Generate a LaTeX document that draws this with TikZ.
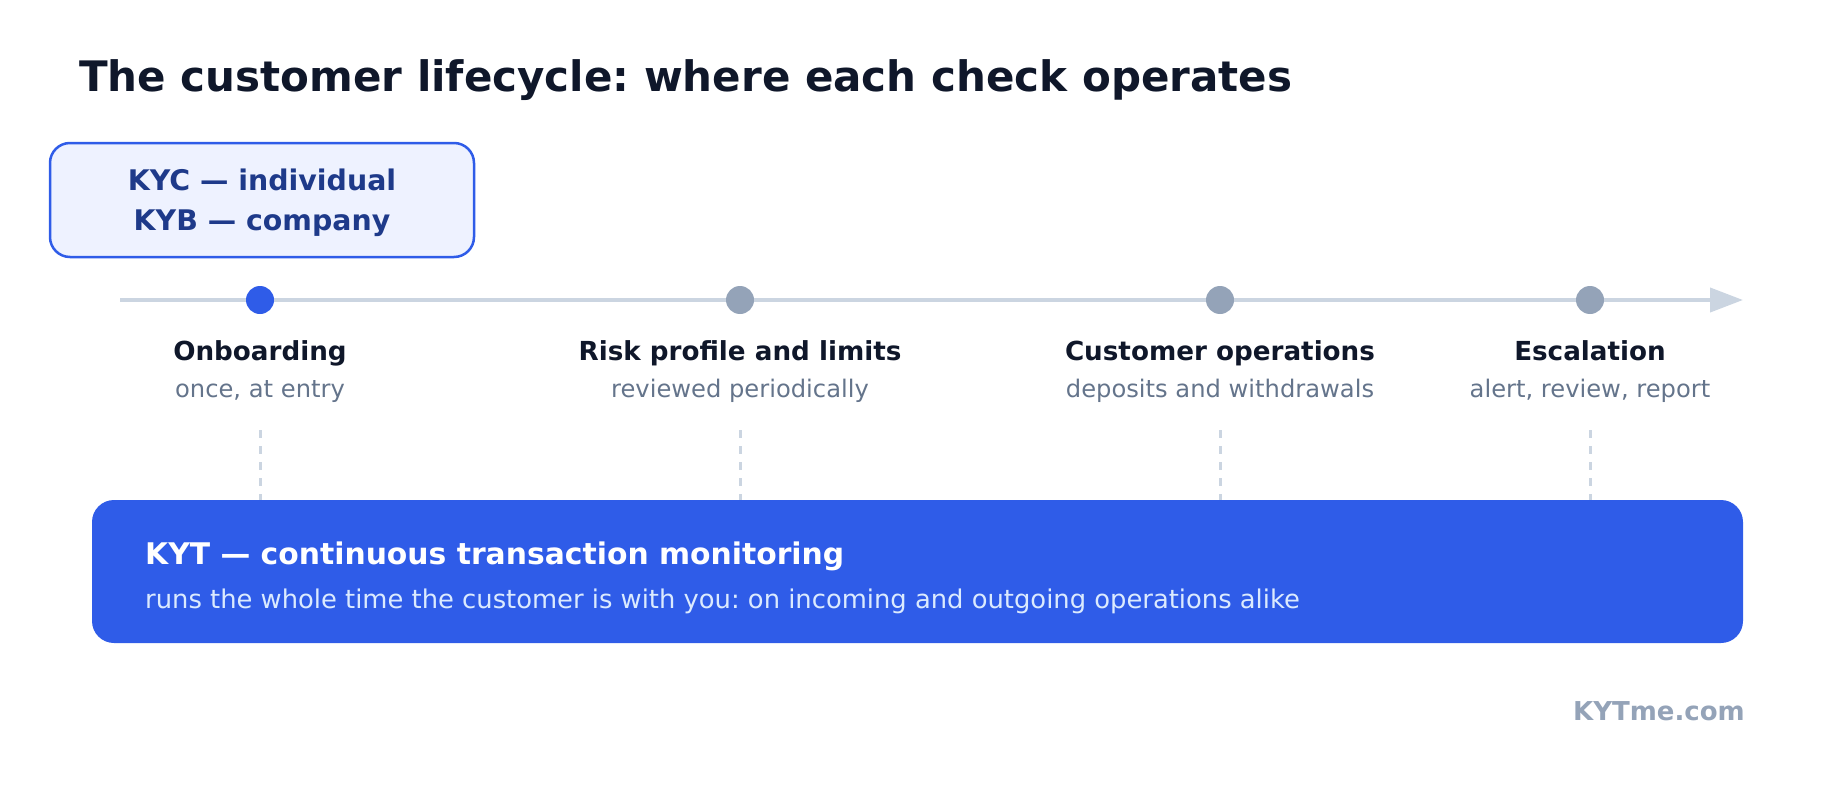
\documentclass[tikz,border=0pt]{standalone}
\usepackage{fontspec}
\setmainfont{DejaVu Sans}
\usetikzlibrary{arrows.meta}
\frenchspacing
\definecolor{kyblue}{HTML}{2F5CE8}
\definecolor{kynavy}{HTML}{1E3A8A}
\definecolor{kyink}{HTML}{0F172A}
\definecolor{kygrey}{HTML}{64748B}
\definecolor{kydot}{HTML}{94A3B8}
\definecolor{kyline}{HTML}{CBD5E1}
\definecolor{kypale}{HTML}{EEF2FF}
\definecolor{kysoft}{HTML}{DBEAFE}
\tikzset{
 dot/.style={circle,inner sep=0pt,minimum size=28pt,fill=kydot},
 stagename/.style={anchor=base,inner sep=0pt,text=kyink,font=\fontsize{26.2}{30}\selectfont\bfseries},
 stagenote/.style={anchor=base,inner sep=0pt,text=kygrey,font=\fontsize{24.2}{28}\selectfont},
 guide/.style={draw=kyline,line width=3pt,dash pattern=on 8pt off 8pt},
}

\begin{document}
\begin{tikzpicture}[x=1pt,y=-1pt]
        \useasboundingbox (0,0) rectangle (1840,800);
        \node[anchor=base west,inner sep=0pt,text=kyink,font=\fontsize{42}{50}\selectfont\bfseries] (title) at (79,92) {The customer lifecycle: where each check operates};
        % KYC / KYB box
        \node[draw=kyblue,line width=2.5pt,fill=kypale,rounded corners=20pt,minimum width=424pt,minimum height=114pt] (kyc) at (262,200) {};
        \node[align=center,inner sep=0pt,text=kynavy,font=\fontsize{28.4}{40}\selectfont\bfseries] (kyctext) at (262,203) {KYC — individual\\KYB — company};
        % timeline
        \coordinate (tlstart) at (120,300);
        \coordinate (tlend) at (1743,300);
        \draw[kyline,line width=4pt,-{Triangle[length=33pt,width=24pt]}] (tlstart) -- (tlend);
        \node[dot,fill=kyblue] (s1) at (260,300) {};
        \node[dot] (s2) at (740,300) {};
        \node[dot] (s3) at (1220,300) {};
        \node[dot] (s4) at (1590,300) {};
        \node[stagename] (n1) at (260,360) {Onboarding};
        \node[stagename] (n2) at (740,360) {Risk profile and limits};
        \node[stagename] (n3) at (1220,360) {Customer operations};
        \node[stagename] (n4) at (1590,360) {Escalation};
        \node[stagenote] (m1) at (260,397) {once, at entry};
        \node[stagenote] (m2) at (740,397) {reviewed periodically};
        \node[stagenote] (m3) at (1220,397) {deposits and withdrawals};
        \node[stagenote] (m4) at (1590,397) {alert, review, report};
        % KYT band
        \node[fill=kyblue,rounded corners=22pt,minimum width=1651pt,minimum height=143pt,inner sep=0pt] (kyt) at (917.5,571.5) {};
        \node[anchor=base west,inner sep=0pt,text=white,font=\fontsize{29.8}{36}\selectfont\bfseries] (kytname) at (145,564) {KYT — continuous transaction monitoring};
        \node[anchor=base west,inner sep=0pt,text=kysoft,font=\fontsize{25.8}{30}\selectfont] (kytnote) at (145,608) {runs the whole time the customer is with you: on incoming and outgoing operations alike};
        \coordinate (g1) at (260,430);
        \coordinate (g2) at (740,430);
        \coordinate (g3) at (1220,430);
        \coordinate (g4) at (1590,430);
        \draw[guide] (g1) -- (g1 |- kyt.north);
        \draw[guide] (g2) -- (g2 |- kyt.north);
        \draw[guide] (g3) -- (g3 |- kyt.north);
        \draw[guide] (g4) -- (g4 |- kyt.north);
        \node[anchor=base east,inner sep=0pt,text=kydot,font=\fontsize{26}{30}\selectfont\bfseries] (brand) at (1745,720) {KYTme.com};
    \end{tikzpicture}
\end{document}
